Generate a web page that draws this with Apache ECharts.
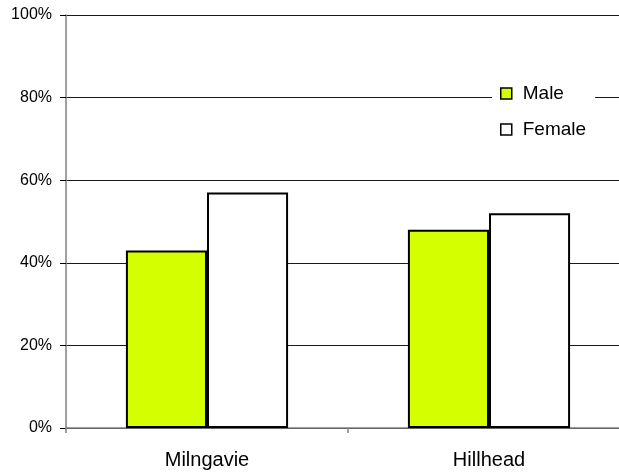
<!DOCTYPE html>
<html>
<head>
<meta charset="utf-8">
<style>
  html, body { margin: 0; padding: 0; background: #fff; overflow: hidden; }
  #chart { width: 630px; height: 475px; }
</style>
<script src="https://cdn.jsdelivr.net/npm/echarts@6/dist/echarts.min.js"></script>
</head>
<body>
<div id="chart"></div>
<script>
// Share of respondents by sex in each area (percent)
const categories = ['Milngavie', 'Hillhead'];
const maleValues = [43, 48];
const femaleValues = [57, 52];
const yTicks = [0, 20, 40, 60, 80, 100];

const chart = echarts.init(document.getElementById('chart'), null, { renderer: 'canvas' });

const font = 'Liberation Sans, Arial, sans-serif';

chart.setOption({
  animation: false,
  backgroundColor: '#ffffff',
  // the plot runs slightly past the right edge of the page, so the last gridline ends flush
  grid: { left: 66, top: 15, right: 0, height: 413, containLabel: false },
  legend: {
    orient: 'vertical',
    left: 492,
    top: 76,
    backgroundColor: '#ffffff',
    padding: [8, 9, 8, 8],
    itemWidth: 11,
    itemHeight: 11,
    itemGap: 17,
    icon: 'rect',
    textStyle: { fontFamily: font, fontSize: 19, color: '#000', lineHeight: 18, padding: [0, 0, 0, 6] },
    data: [
      { name: 'Male', itemStyle: { color: '#d4ff00', borderColor: '#000', borderWidth: 1.5 } },
      { name: 'Female', itemStyle: { color: '#ffffff', borderColor: '#000', borderWidth: 1.5 } }
    ]
  },
  xAxis: {
    type: 'category',
    data: categories,
    axisLine: { lineStyle: { color: '#808080', width: 1.5 } },
    axisTick: { show: true, length: 5, lineStyle: { color: '#808080', width: 1.5 } },
    axisLabel: { fontFamily: font, fontSize: 20, color: '#000', margin: 22 },
    splitLine: { show: false }
  },
  yAxis: {
    type: 'value',
    min: yTicks[0],
    max: yTicks[yTicks.length - 1],
    interval: yTicks[1] - yTicks[0],
    axisLine: { show: true, lineStyle: { color: '#808080', width: 1.5 } },
    axisTick: { show: true, length: 6, inside: false, lineStyle: { color: '#000', width: 1 } },
    axisLabel: { fontFamily: font, fontSize: 16, color: '#000', margin: 14, formatter: v => v + '%' },
    splitLine: { show: true, lineStyle: { color: '#1a1a1a', width: 1.2 } }
  },
  series: [
    {
      name: 'Male',
      type: 'bar',
      data: maleValues,
      barGap: '0%',
      barCategoryGap: '42.5%',
      itemStyle: { color: '#d4ff00', borderColor: '#000', borderWidth: 2 }
    },
    {
      name: 'Female',
      type: 'bar',
      data: femaleValues,
      barGap: '0%',
      barCategoryGap: '42.5%',
      itemStyle: { color: '#ffffff', borderColor: '#000', borderWidth: 2 }
    }
  ]
});
</script>
</body>
</html>
